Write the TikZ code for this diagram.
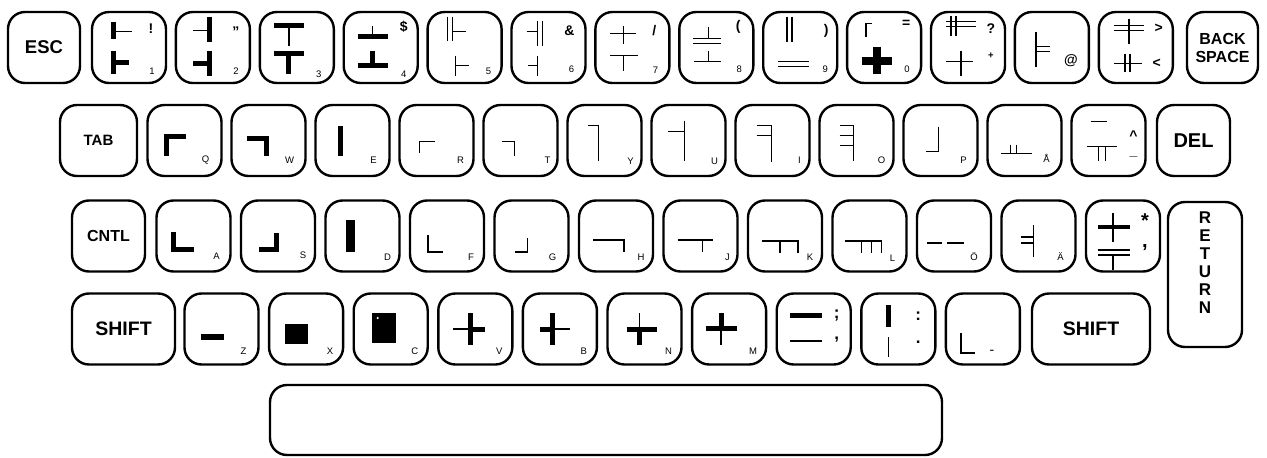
\documentclass[tikz,border=0pt]{standalone}
\usepackage{fontspec}
\setmainfont{Liberation Sans}
\newcommand\fA{\bfseries\fontsize{18.5}{20}\selectfont}
\newcommand\fB{\bfseries\fontsize{15}{17}\selectfont}
\newcommand\fC{\bfseries\fontsize{16}{18}\selectfont}
\newcommand\fD{\bfseries\fontsize{19.5}{21}\selectfont}
\newcommand\fE{\bfseries\fontsize{20}{22}\selectfont}
\newcommand\onkey[2]{\begin{scope}[shift={(#1.center)}]#2\end{scope}}
\tikzset{
 keybox/.style={draw, line width=2.4pt, rounded corners=17pt, minimum width=74pt, minimum height=71pt, inner sep=0pt},
 thn/.style={line width=1.5pt},
 thk/.style={line width=5pt},
 smlab/.style={inner sep=0pt, font=\fontsize{9.5}{10}\selectfont},
 symlab/.style={inner sep=0pt, font=\bfseries\fontsize{14}{15}\selectfont},
}
\begin{document}
\begin{tikzpicture}[x=1pt,y=-1pt]
\useasboundingbox (0,0) rectangle (1267,458);
% ---------------- row 1
\node[keybox,minimum width=72pt,font=\fA] (esc) at (44,47.5) {ESC};
\node[keybox] (k1) at (129,47.5) {};
\node[keybox] (k2) at (212.9,47.5) {};
\node[keybox] (k3) at (296.8,47.5) {};
\node[keybox] (k4) at (380.7,47.5) {};
\node[keybox] (k5) at (464.6,47.5) {};
\node[keybox] (k6) at (548.5,47.5) {};
\node[keybox] (k7) at (632.4,47.5) {};
\node[keybox] (k8) at (716.3,47.5) {};
\node[keybox] (k9) at (800.2,47.5) {};
\node[keybox] (k0) at (884.1,47.5) {};
\node[keybox] (kqm) at (968,47.5) {};
\node[keybox] (kat) at (1051.9,47.5) {};
\node[keybox] (kgt) at (1135.8,47.5) {};
\node[keybox,minimum width=71pt,align=center,font=\fC] (bsp) at (1222.5,47.5) {BACK\\SPACE};
% ---------------- row 2
\node[keybox,minimum width=77pt,font=\fB] (tab) at (98.5,140.5) {TAB};
\node[keybox] (kq) at (184.5,140.5) {};
\node[keybox] (kw) at (268.5,140.5) {};
\node[keybox] (ke) at (352.5,140.5) {};
\node[keybox] (kr) at (436.5,140.5) {};
\node[keybox] (kt) at (520.5,140.5) {};
\node[keybox] (ky) at (604.5,140.5) {};
\node[keybox] (ku) at (688.5,140.5) {};
\node[keybox] (ki) at (772.5,140.5) {};
\node[keybox] (ko) at (856.5,140.5) {};
\node[keybox] (kp) at (940.5,140.5) {};
\node[keybox] (kaa) at (1024.5,140.5) {};
\node[keybox] (kci) at (1108.5,140.5) {};
\node[keybox,minimum width=73pt,font=\fE] (del) at (1193.5,140.5) {DEL};
% ---------------- row 3
\node[keybox,minimum width=73pt,font=\fC] (cntl) at (108.5,236) {CNTL};
\node[keybox] (ka) at (193.5,236) {};
\node[keybox] (ks) at (278,236) {};
\node[keybox] (kd) at (362.5,236) {};
\node[keybox] (kf) at (447,236) {};
\node[keybox] (kg) at (531.5,236) {};
\node[keybox] (kh) at (616,236) {};
\node[keybox] (kj) at (700.5,236) {};
\node[keybox] (kk) at (785,236) {};
\node[keybox] (kl) at (869.5,236) {};
\node[keybox] (koe) at (954,236) {};
\node[keybox] (kae) at (1038.5,236) {};
\node[keybox] (kst) at (1123,236) {};
\node[keybox,minimum height=145pt] (ret) at (1205,274.5) {};
\node[inner sep=0pt,align=center,font=\bfseries\fontsize{17}{18}\selectfont] (retl) at (1205,263) {R\\E\\T\\U\\R\\N};
% ---------------- row 4
\node[keybox,minimum width=103pt,font=\fD] (lsh) at (123.5,329) {SHIFT};
\node[keybox] (kz) at (221.5,329) {};
\node[keybox] (kx) at (306.1,329) {};
\node[keybox] (kc) at (390.7,329) {};
\node[keybox] (kv) at (475.3,329) {};
\node[keybox] (kb) at (559.9,329) {};
\node[keybox] (kn) at (644.5,329) {};
\node[keybox] (km) at (729.1,329) {};
\node[keybox] (ksc) at (813.7,329) {};
\node[keybox] (kco) at (898.3,329) {};
\node[keybox] (kmi) at (982.9,329) {};
\node[keybox,minimum width=118pt,font=\fD] (rsh) at (1091,329) {SHIFT};
% ---------------- space bar
\node[keybox,minimum width=672pt,minimum height=70pt] (space) at (606,420) {};
% ================= glyphs row 1
\onkey{k1}{
 \draw[thk] (-16,-26) -- (-16,-9); \draw[thn] (-16,-16) -- (3,-16);
 \draw[thk] (-16,3) -- (-16,26); \draw[thk] (-16,15) -- (0,15);
 \node[symlab] (k1a) at (22,-19) {!}; \node[smlab] (k1b) at (23,24) {1};}
\onkey{k2}{
 \draw[thk] (-3,-31) -- (-3,-6); \draw[thn] (-20,-17) -- (-3,-17);
 \draw[thk] (-3,3) -- (-3,28); \draw[thk] (-20,16) -- (-3,16);
 \node[symlab] (k2a) at (23,-16) {"}; \node[smlab] (k2b) at (23,24) {2};}
\onkey{k3}{
 \draw[thk] (-23,-22) -- (7,-22); \draw[thn] (-8,-22) -- (-8,-2);
 \draw[thk] (-23,6) -- (7,6); \draw[thk] (-8,6) -- (-8,26);
 \node[smlab] (k3b) at (22,27) {3};}
\onkey{k4}{
 \draw[thn] (-8,-22) -- (-8,-11); \draw[thk] (-23,-11) -- (7,-11);
 \draw[thk] (-8,3) -- (-8,18); \draw[thk] (-23,18) -- (7,18);
 \node[symlab] (k4a) at (23,-21) {\$}; \node[smlab] (k4b) at (23,27) {4};}
\onkey{k5}{
 \draw[thn] (-17,-31) -- (-17,-7); \draw[thn] (-12,-31) -- (-12,-7); \draw[thn] (-12,-16) -- (1,-16);
 \draw[thn] (-9,8) -- (-9,28); \draw[thn] (-9,18) -- (4,18);
 \node[smlab] (k5b) at (24,24) {5};}
\onkey{k6}{
 \draw[thn] (-22,-16) -- (-11,-16); \draw[thn] (-11,-27) -- (-11,-2); \draw[thn] (-6,-27) -- (-6,-2);
 \draw[thn] (-21,18) -- (-11,18); \draw[thn] (-11,8) -- (-11,28);
 \node[symlab] (k6a) at (21,-17) {\&}; \node[smlab] (k6b) at (23,22) {6};}
\onkey{k7}{
 \draw[thn] (-22,-14) -- (4,-14); \draw[thn] (-9,-22) -- (-9,-4);
 \draw[thn] (-22,8) -- (6,8); \draw[thn] (-9,8) -- (-9,23);
 \node[symlab] (k7a) at (22,-17) {/}; \node[smlab] (k7b) at (23,23) {7};}
\onkey{k8}{
 \draw[thn] (-8,-21) -- (-8,-9); \draw[thn] (-23,-9) -- (5,-9); \draw[thn] (-23,-4) -- (5,-4);
 \draw[thn] (-8,3) -- (-8,14); \draw[thn] (-22,14) -- (5,14);
 \node[symlab] (k8a) at (22,-21) {(}; \node[smlab] (k8b) at (23,22) {8};}
\onkey{k9}{
 \draw[thn] (-13,-31) -- (-13,-6); \draw[thn] (-8,-31) -- (-8,-6);
 \draw[thn] (-22,14) -- (9,14); \draw[thn] (-22,19) -- (9,19);
 \node[symlab] (k9a) at (26,-17) {)}; \node[smlab] (k9b) at (25,22) {9};}
\onkey{k0}{
 \draw[thn] (-18,-11) -- (-18,-24) -- (-12,-24);
 \draw[line width=8pt] (-22,13) -- (8,13); \draw[line width=8pt] (-7,-1) -- (-7,26);
 \node[symlab] (k0a) at (22,-24) {=}; \node[smlab] (k0b) at (23,22) {0};}
\onkey{kqm}{
 \draw[thn] (-17,-32) -- (-17,-12); \draw[thn] (-12,-32) -- (-12,-12);
 \draw[thn] (-22,-26) -- (8,-26); \draw[thn] (-22,-21) -- (8,-21);
 \draw[thn] (-22,14) -- (5,14); \draw[thn] (-7,3) -- (-7,28);
 \node[symlab] (kqma) at (23,-19) {?}; \node[smlab,font=\bfseries\fontsize{9.5}{10}\selectfont] (kqmb) at (23,8) {+};}
\onkey{kat}{
 \draw[thn] (-16,-16) -- (-16,19); \draw[thn] (-16,-1) -- (-2,-1); \draw[thn] (-16,4) -- (-2,4);
 \node[symlab] (kata) at (19,13) {@};}
\onkey{kgt}{
 \draw[thn] (-22,-22) -- (8,-22); \draw[thn] (-22,-17) -- (8,-17); \draw[thn] (-7,-29) -- (-7,-4);
 \draw[thn] (-11,6) -- (-11,24); \draw[thn] (-6,6) -- (-6,24); \draw[thn] (-22,16) -- (6,16);
 \node[symlab] (kgta) at (23,-19) {>}; \node[symlab] (kgtb) at (21,16) {<};}
% ================= glyphs row 2
\onkey{kq}{\draw[thk] (-18,15) -- (-18,-4) -- (1,-4); \node[smlab] (kqb) at (21,20) {Q};}
\onkey{kw}{\draw[thk] (-22,-2) -- (-2,-2) -- (-2,15); \node[smlab] (kwb) at (21,20) {W};}
\onkey{ke}{\draw[thk] (-12,-15) -- (-12,15); \node[smlab] (keb) at (21,20) {E};}
\onkey{kr}{\draw[thn] (-17,12) -- (-17,1) -- (-2,1); \node[smlab] (krb) at (24,20) {R};}
\onkey{kt}{\draw[thn] (-19,1) -- (-6,1) -- (-6,15); \node[smlab] (ktb) at (27,20) {T};}
\onkey{ky}{\draw[thn] (-17,-15) -- (-6,-15) -- (-6,20); \node[smlab] (kyb) at (26,21) {Y};}
\onkey{ku}{\draw[thn] (-4,-20) -- (-4,20); \draw[thn] (-21,-9) -- (-4,-9); \node[smlab] (kub) at (26,21) {U};}
\onkey{ki}{\draw[thn] (-16,-15) -- (-1,-15) -- (-1,21); \draw[thn] (-16,-5) -- (-1,-5); \node[smlab] (kib) at (27,20) {I};}
\onkey{ko}{\draw[thn] (-17,-15) -- (-3,-15) -- (-3,20); \draw[thn] (-17,-5) -- (-3,-5); \draw[thn] (-17,5) -- (-3,5); \node[smlab] (kob) at (25,20) {O};}
\onkey{kp}{\draw[thn] (-2,-14) -- (-2,11) -- (-15,11); \node[smlab] (kpb) at (23,20) {P};}
\onkey{kaa}{\draw[thn] (-24,13) -- (7,13); \draw[thn] (-14,4) -- (-14,13); \draw[thn] (-8,4) -- (-8,13); \node[smlab] (kaab) at (22,18) {Å};}
\onkey{kci}{\draw[thn] (-18,-19) -- (-2,-19); \draw[thn] (-22,6) -- (8,6); \draw[thn] (-10,6) -- (-10,20); \draw[thn] (-3,6) -- (-3,20);
 \node[symlab] (kcia) at (25,-5) {\textasciicircum}; \node[symlab] (kcib) at (25,16) {\_};}
% ================= glyphs row 3
\onkey{ka}{\draw[thk] (-20,-4) -- (-20,13) -- (0,13); \node[smlab] (kab) at (23,20) {A};}
\onkey{ks}{\draw[thk] (-2,-3) -- (-2,13) -- (-19,13); \node[smlab] (ksb) at (25,19) {S};}
\onkey{kd}{\draw[line width=9pt] (-12,-16) -- (-12,16); \node[smlab] (kdb) at (25,21) {D};}
\onkey{kf}{\draw[thn] (-19,-1) -- (-19,16) -- (-4,16); \node[smlab] (kfb) at (24,21) {F};}
\onkey{kg}{\draw[thn] (-4,2) -- (-4,16) -- (-17,16); \node[smlab] (kgb) at (21,21) {G};}
\onkey{kh}{\draw[thn] (-23,4) -- (8,4) -- (8,16); \node[smlab] (khb) at (25,21) {H};}
\onkey{kj}{\draw[thn] (-23,4) -- (12,4); \draw[thn] (2,4) -- (2,16); \node[smlab] (kjb) at (27,21) {J};}
\onkey{kk}{\draw[thn] (-23,5) -- (13,5) -- (13,17); \draw[thn] (-5,5) -- (-5,17); \node[smlab] (kkb) at (25,21) {K};}
\onkey{kl}{\draw[thn] (-25,5) -- (12,5) -- (12,17); \draw[thn] (-8,5) -- (-8,17); \draw[thn] (2,5) -- (2,17); \node[smlab] (klb) at (23,22) {L};}
\onkey{koe}{\draw[thn] (-27,7) -- (-12,7); \draw[thn] (-7,7) -- (10,7); \node[smlab] (koeb) at (20,21) {Ö};}
\onkey{kae}{\draw[thn] (-5,-11) -- (-5,21); \draw[thn] (-18,1) -- (-5,1); \draw[thn] (-18,7) -- (-5,7); \node[smlab] (kaeb) at (22,21) {Ä};}
\onkey{kst}{\draw[line width=4pt] (-25,-9) -- (7,-9); \draw[thn] (-10,-23) -- (-10,6);
 \draw[thn] (-25,14) -- (7,14); \draw[thn] (-25,19) -- (7,19); \draw[thn] (-10,19) -- (-10,34);
 \node[symlab,font=\bfseries\fontsize{20}{20}\selectfont] (ksta) at (22,-15) {*}; \node[symlab,font=\bfseries\fontsize{20}{20}\selectfont] (kstb) at (22,12) {,};}
% ================= glyphs row 4
\onkey{kz}{\draw[line width=6pt] (-21,8) -- (2,8); \node[smlab] (kzb) at (22,22) {Z};}
\onkey{kx}{\fill (-21,-5) rectangle (2,15); \node[smlab] (kxb) at (24,22) {X};}
\onkey{kc}{\fill (-19,-16) rectangle (5,14); \fill[white] (-13,-11) circle (1.2); \node[smlab] (kcb) at (24,22) {C};}
\onkey{kv}{\draw[thk] (-5,-16) -- (-5,16); \draw[thk] (-5,0) -- (10,0); \draw[thn] (-22,0) -- (-5,0); \node[smlab] (kvb) at (24,22) {V};}
\onkey{kb}{\draw[thk] (-7,-16) -- (-7,16); \draw[thk] (-20,0) -- (-7,0); \draw[thn] (-7,0) -- (10,0); \node[smlab] (kbb) at (24,22) {B};}
\onkey{kn}{\draw[thn] (-5,-16) -- (-5,0); \draw[thk] (-5,0) -- (-5,16); \draw[thk] (-18,0) -- (12,0); \node[smlab] (knb) at (24,22) {N};}
\onkey{km}{\draw[thk] (-8,-16) -- (-8,0); \draw[thn] (-8,0) -- (-8,16); \draw[thk] (-23,-1) -- (8,-1); \node[smlab] (kmb) at (24,22) {M};}
\onkey{ksc}{\draw[thk] (-24,-14) -- (8,-14); \draw[thn] (-24,12) -- (8,12);
 \node[symlab,font=\bfseries\fontsize{17}{17}\selectfont] (ksca) at (23,-13) {;}; \node[symlab,font=\bfseries\fontsize{17}{17}\selectfont] (kscb) at (23,11) {,};}
\onkey{kco}{\draw[thk] (-10,-24) -- (-10,-2); \draw[thn] (-10,8) -- (-10,28);
 \node[symlab,font=\bfseries\fontsize{17}{17}\selectfont] (kcoa) at (20,-13) {:}; \node[symlab,font=\bfseries\fontsize{17}{17}\selectfont] (kcob) at (20,13) {.};}
\onkey{kmi}{\draw[thn] (-22,4) -- (-22,24) -- (-8,24); \node[symlab,font=\fontsize{14}{14}\selectfont] (kmib) at (9,23) {-};}
\end{tikzpicture}
\end{document}
